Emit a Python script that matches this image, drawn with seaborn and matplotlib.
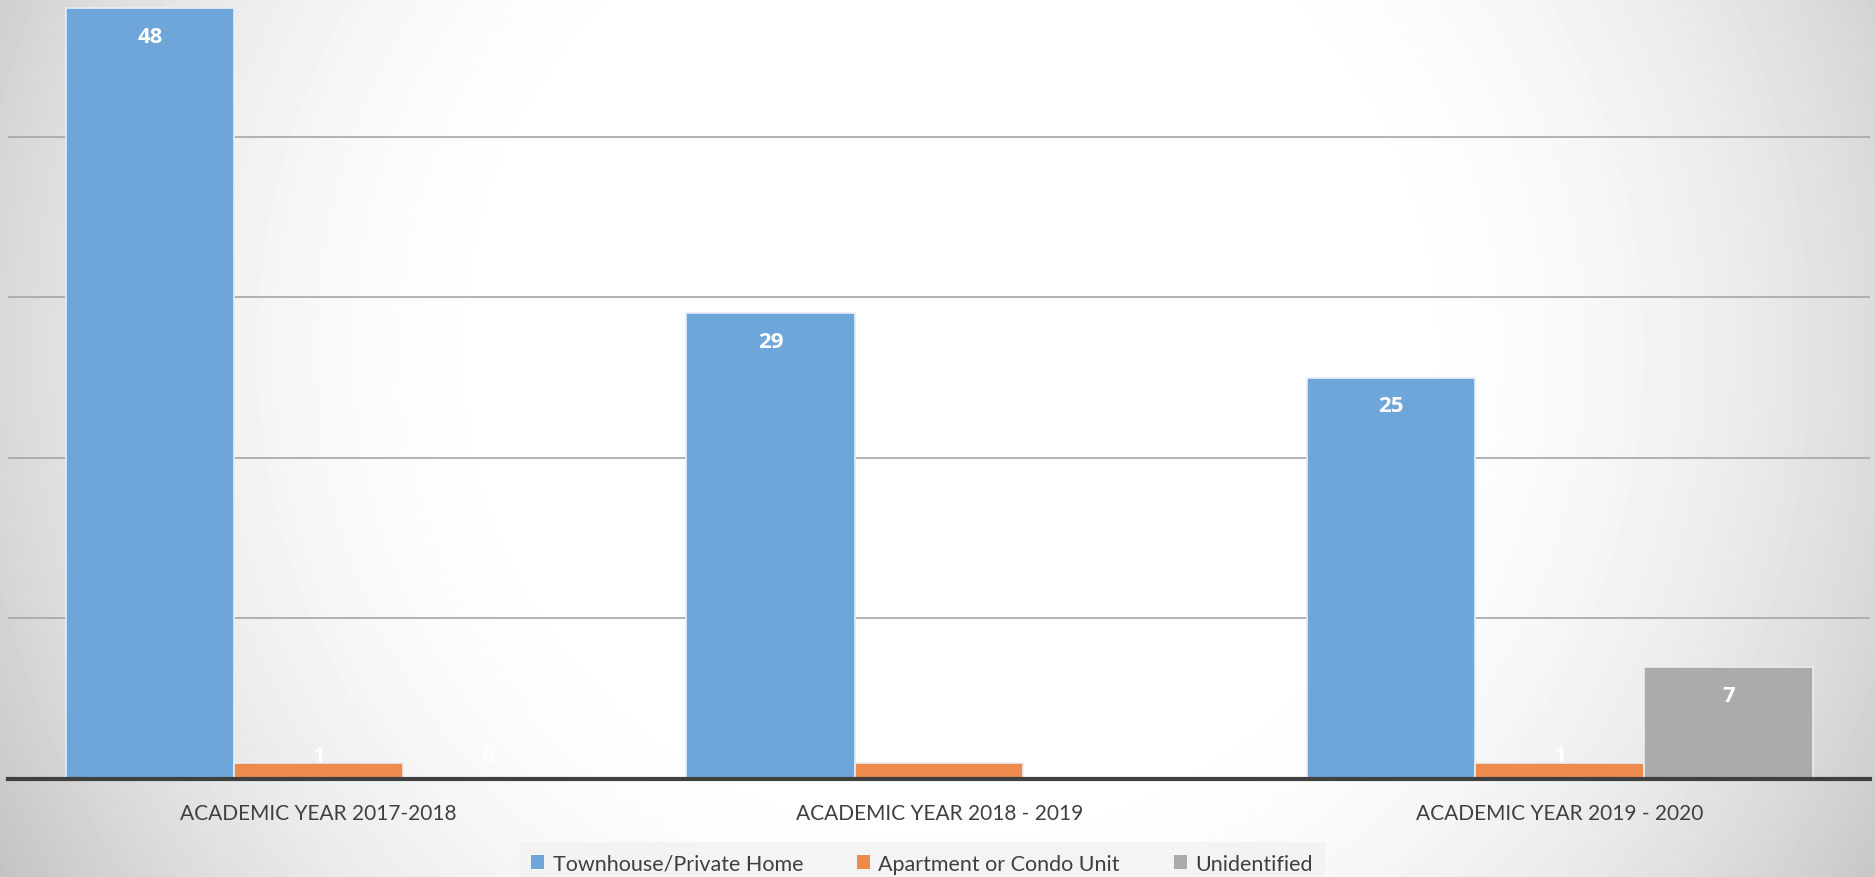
import numpy as np
import pandas as pd
import matplotlib
matplotlib.use("Agg")
import matplotlib.pyplot as plt
import seaborn as sns
from matplotlib.patches import Patch

years = ["ACADEMIC YEAR 2017-2018", "ACADEMIC YEAR 2018 - 2019", "ACADEMIC YEAR 2019 - 2020"]
types = ["Townhouse/Private Home", "Apartment or Condo Unit", "Unidentified"]
townhouse = [48, 29, 25]
apartment = [1, 1, 1]
unidentified = [0, 0, 7]
colors = ["#6fa6d9", "#ed8b4c", "#ababab"]

df = pd.DataFrame({
    "year": years * 3,
    "type": [types[0]] * 3 + [types[1]] * 3 + [types[2]] * 3,
    "count": townhouse + apartment + unidentified,
})

sns.set_theme(style="white")
plt.rcParams["font.family"] = ["Lato", "DejaVu Sans"]

W, H = 1875, 878
fig = plt.figure(figsize=(W / 100, H / 100), dpi=100)

# radial grey-to-white background
bg = fig.add_axes([0, 0, 1, 1], zorder=-10)
yy, xx = np.mgrid[0:H, 0:W]
r = np.hypot(xx - 950, yy - 350)
val = 1 - 5e-7 * np.clip(r - 400, 0, None) ** 2
val = np.clip(val, 0.76, 1)
bg.imshow(val, cmap="gray", vmin=0, vmax=1, aspect="auto", interpolation="bilinear")
bg.axis("off")

ax = fig.add_axes([8.4 / W, 98 / H, (1870 - 8.4) / W, 780 / H])
ax.patch.set_alpha(0)

sns.barplot(data=df, x="year", y="count", hue="type", palette=colors,
            saturation=1, width=0.815, gap=0, ax=ax, legend=False,
            edgecolor="#e8eef5", linewidth=1.2, zorder=3)

ax.set_xlim(-0.5, 2.5)
ax.set_ylim(0, 48.57)
ax.set_yticks([10, 20, 30, 40])
ax.yaxis.grid(True, color="#a6a6a6", linewidth=1.2, zorder=0)
ax.set_yticklabels([])
ax.tick_params(axis="y", length=0)
ax.tick_params(axis="x", length=0, pad=17, labelsize=15, labelcolor="#404040")
ax.set_xlabel("")
ax.set_ylabel("")
for s in ["top", "right", "left"]:
    ax.spines[s].set_visible(False)
ax.spines["bottom"].set_color("#404040")
ax.spines["bottom"].set_linewidth(3)
ax.spines["bottom"].set_zorder(5)

# data labels, white bold inside the top of each bar
for cont in ax.containers:
    for bar in cont:
        v = bar.get_height()
        x = bar.get_x() + bar.get_width() / 2
        y = max(v - 1.77, 1.47)
        ax.text(x, y, f"{int(v)}", ha="center", va="center", color="white",
                fontsize=16, fontweight="bold", family=["Open Sans", "DejaVu Sans"],
                zorder=6)

handles = [Patch(facecolor=c, edgecolor="none") for c in colors]
leg = fig.legend(handles, types, loc="lower center", bbox_to_anchor=(0.4917, -0.022),
                 ncol=3, frameon=True, fontsize=15.5, handlelength=0.6, handleheight=0.6,
                 handletextpad=0.4, columnspacing=2.5, borderpad=0.55, borderaxespad=0.5,
                 fancybox=False)
leg.get_frame().set_facecolor("#f2f2f2")
leg.get_frame().set_edgecolor("none")
for t in leg.get_texts():
    t.set_color("#404040")

fig.savefig("out.png", dpi=100)
